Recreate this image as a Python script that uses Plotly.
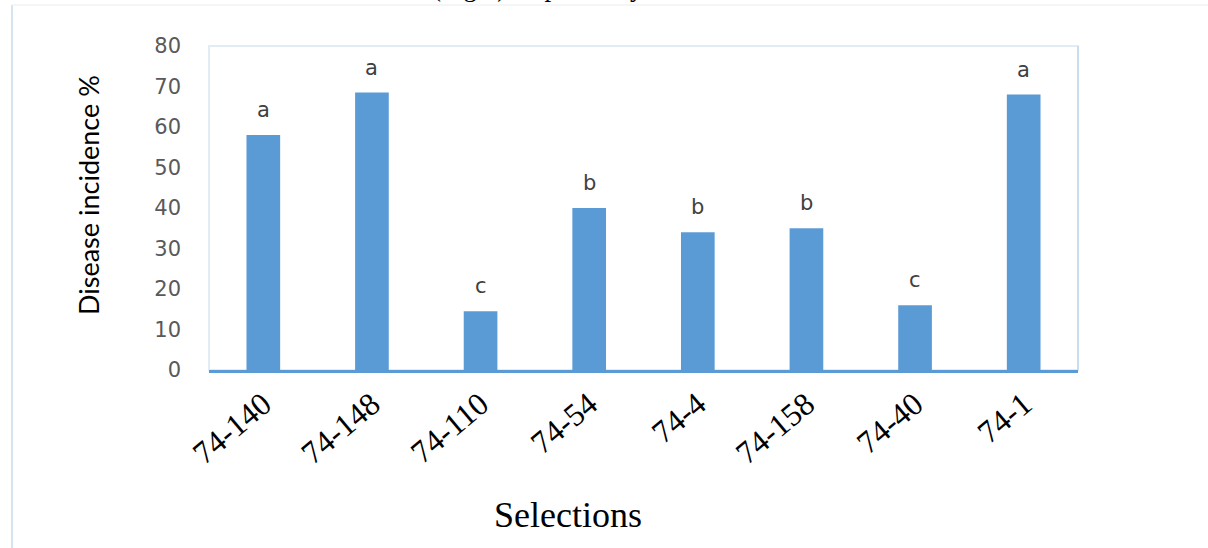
import plotly.graph_objects as go

categories = ["74-140", "74-148", "74-110", "74-54", "74-4", "74-158", "74-40", "74-1"]
incidence = [58, 68.5, 14.5, 40, 34, 35, 16, 68]
letters = ["a", "a", "c", "b", "b", "b", "c", "a"]
y_ticks = [0, 10, 20, 30, 40, 50, 60, 70, 80]

W, H = 1208, 548
L, R, T, B = 209, 1078, 46, 370  # plot area pixel edges

fig = go.Figure()
fig.add_trace(go.Bar(
    x=categories, y=incidence,
    marker=dict(color="#5B9BD5", line=dict(width=0)),
    width=0.31, hoverinfo="x+y",
))

for c, v, l in zip(categories, incidence, letters):
    fig.add_annotation(x=c, y=v, xref="x", yref="y", text=l, showarrow=False,
                       xanchor="center", yanchor="bottom",
                       yshift=11, font=dict(family="DejaVu Sans", size=21, color="#404040"))

pw, ph = R - L, B - T
def px(x): return (x - L) / pw
def py(y): return (B - y) / ph

# cropped caption text at top
fig.add_annotation(xref="paper", yref="paper", x=px(430), y=py(4.5), xanchor="left", yanchor="bottom",
                   text="(Fig.1) respectively", showarrow=False,
                   font=dict(family="Liberation Serif", size=27, color="#000000"))

# y axis title
fig.add_annotation(xref="paper", yref="paper", x=px(88), y=py(195), textangle=-90,
                   xanchor="center", yanchor="middle",
                   text="Disease incidence %", showarrow=False,
                   font=dict(family="Lato", size=27, color="#000000"))
# x axis title
fig.add_annotation(xref="paper", yref="paper", x=px(568), y=py(515),
                   xanchor="center", yanchor="middle",
                   text="Selections", showarrow=False,
                   font=dict(family="Liberation Serif", size=36, color="#000000"))

# page frame lines
fig.add_shape(type="line", xref="paper", yref="paper", x0=px(12), x1=px(12), y0=py(5), y1=py(548),
              line=dict(color="#D6E4F2", width=2))
fig.add_shape(type="line", xref="paper", yref="paper", x0=px(12), x1=px(1208), y0=py(5), y1=py(5),
              line=dict(color="#F0F2F5", width=1.5))
# plot frame
fig.add_shape(type="rect", xref="paper", yref="paper", x0=0, x1=1, y0=0, y1=1,
              line=dict(color="#E2ECF7", width=2), layer="below")
fig.add_shape(type="line", xref="paper", yref="paper", x0=1, x1=1, y0=0, y1=1,
              line=dict(color="#C9DCF0", width=2))

fig.update_layout(
    width=W, height=H,
    margin=dict(l=L, r=W - R, t=T, b=H - B, autoexpand=False),
    plot_bgcolor="white", paper_bgcolor="white",
    showlegend=False,
    bargap=0.69,
    xaxis=dict(
        type="category", automargin=False,
        tickangle=-40, tickfont=dict(family="Liberation Serif", size=32, color="#000000"),
        showgrid=False, showline=True, linecolor="#5B9BD5", linewidth=2.5,
        ticks="", zeroline=False,
    ),
    yaxis=dict(
        automargin=False,
        range=[0, 80], tickvals=y_ticks, showgrid=False, zeroline=False, showline=False,
        tickfont=dict(family="DejaVu Sans", size=21, color="#595959"),
        ticks="", ticklabelstandoff=27,
    ),
)

fig.write_html("out.html", config={"displayModeBar": False},
               post_script="document.body.style.margin='0px';")
